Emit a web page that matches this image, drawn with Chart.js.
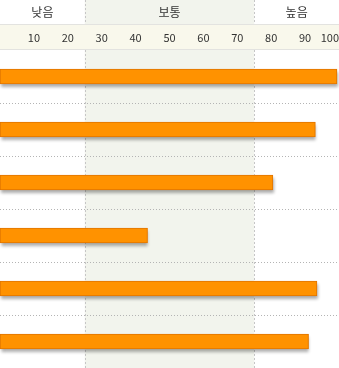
<!DOCTYPE html>
<html>
<head>
<meta charset="utf-8">
<script src="https://cdn.jsdelivr.net/npm/chart.js@4"></script>
<style>
  html, body { margin: 0; padding: 0; background: #fff; }
  #wrap { width: 339px; height: 368px; }
</style>
</head>
<body>
<div id="wrap"><canvas id="chart"></canvas></div>
<script>
// data
const categories = ['항목 1', '항목 2', '항목 3', '항목 4', '항목 5', '항목 6'];
const values = [99.4, 93, 80.5, 43.5, 93.5, 91];
const tickValues = [10, 20, 30, 40, 50, 60, 70, 80, 90, 100];
const zoneLabels = ['낮음', '보통', '높음'];
const zoneBounds = [0, 25, 75, 100];

const HEADER_H = 25;   // row with 낮음 / 보통 / 높음
const AXIS_H = 50;     // header + tick row

// backgrounds, zone band, header labels, separators
const bandPlugin = {
    id: 'band',
    beforeDraw(chart) {
        const ctx = chart.ctx;
        const xs = chart.scales.x;
        const w = chart.width, h = chart.height;
        ctx.save();
        ctx.fillStyle = '#fff';
        ctx.fillRect(0, 0, w, h);

        // middle zone shading
        const bx1 = xs.getPixelForValue(zoneBounds[1]);
        const bx2 = xs.getPixelForValue(zoneBounds[2]);
        ctx.fillStyle = '#f2f4ed';
        ctx.fillRect(bx1, 0, bx2 - bx1, h);

        // tick row
        ctx.fillStyle = '#f9f8ec';
        ctx.fillRect(0, HEADER_H, w, AXIS_H - HEADER_H);
        ctx.fillStyle = '#e3e3e0';
        ctx.fillRect(0, HEADER_H - 1, w, 1);
        ctx.fillRect(0, AXIS_H - 1, w, 1);

        // zone labels
        ctx.fillStyle = '#333';
        ctx.font = '12px "Noto Sans CJK KR", sans-serif';
        ctx.textAlign = 'center';
        ctx.textBaseline = 'middle';
        for (let i = 0; i < zoneLabels.length; i++) {
            const cx = xs.getPixelForValue((zoneBounds[i] + zoneBounds[i + 1]) / 2);
            ctx.fillText(zoneLabels[i], cx, 12);
        }
        ctx.restore();
    },
    beforeDatasetsDraw(chart) {
        const ctx = chart.ctx;
        const xs = chart.scales.x, ys = chart.scales.y;
        const area = chart.chartArea;
        ctx.save();

        // dotted separators between rows
        ctx.strokeStyle = '#b4b4b4';
        ctx.lineWidth = 1;
        ctx.setLineDash([1, 2]);
        for (let i = 0; i < categories.length - 1; i++) {
            const y = Math.round((ys.getPixelForValue(i) + ys.getPixelForValue(i + 1)) / 2) + 0.5;
            ctx.beginPath();
            ctx.moveTo(0, y);
            ctx.lineTo(chart.width, y);
            ctx.stroke();
        }

        // zone boundaries
        ctx.strokeStyle = '#c6c6c6';
        ctx.setLineDash([2, 2]);
        [zoneBounds[1], zoneBounds[2]].forEach(v => {
            const x = Math.round(xs.getPixelForValue(v)) + 0.5;
            ctx.beginPath();
            ctx.moveTo(x, 0);
            ctx.lineTo(x, HEADER_H - 1);
            ctx.moveTo(x, AXIS_H);
            ctx.lineTo(x, area.bottom);
            ctx.stroke();
        });
        ctx.setLineDash([]);

        // drop shadow under the bars
        const meta = chart.getDatasetMeta(0);
        ctx.shadowColor = 'rgba(0,0,0,0.32)';
        ctx.shadowBlur = 3;
        ctx.shadowOffsetX = 1;
        ctx.shadowOffsetY = 3;
        ctx.fillStyle = '#ff9200';
        meta.data.forEach(bar => {
            const p = bar.getProps(['x', 'y', 'base', 'height'], true);
            ctx.fillRect(p.base, p.y - p.height / 2, p.x - p.base, p.height);
        });
        ctx.restore();
    }
};

new Chart(document.getElementById('chart'), {
    type: 'bar',
    data: {
        labels: categories,
        datasets: [{
            data: values,
            backgroundColor: '#ff9200',
            borderColor: '#e07400',
            borderWidth: 1,
            borderSkipped: false,
            barThickness: 15
        }]
    },
    options: {
        indexAxis: 'y',
        responsive: true,
        maintainAspectRatio: false,
        animation: false,
        layout: { padding: 0 },
        plugins: {
            legend: { display: false },
            tooltip: { enabled: false }
        },
        scales: {
            x: {
                type: 'linear',
                position: 'top',
                min: 0,
                max: 100,
                afterBuildTicks(scale) {
                    scale.ticks = [0].concat(tickValues).map(v => ({ value: v }));
                },
                ticks: {
                    callback: v => (v === 0 ? '' : String(v)),
                    align: 'inner',
                    padding: 6,
                    autoSkip: false,
                    maxRotation: 0,
                    color: '#333',
                    font: { family: '"Noto Sans CJK KR", sans-serif', size: 11 }
                },
                grid: { display: false, drawTicks: false },
                border: { display: false },
                afterFit(scale) {
                    scale.height = AXIS_H;
                    scale.paddingLeft = 0;
                    scale.paddingRight = 0;
                }
            },
            y: {
                type: 'category',
                display: false,
                offset: true
            }
        }
    },
    plugins: [bandPlugin]
});
</script>
</body>
</html>
